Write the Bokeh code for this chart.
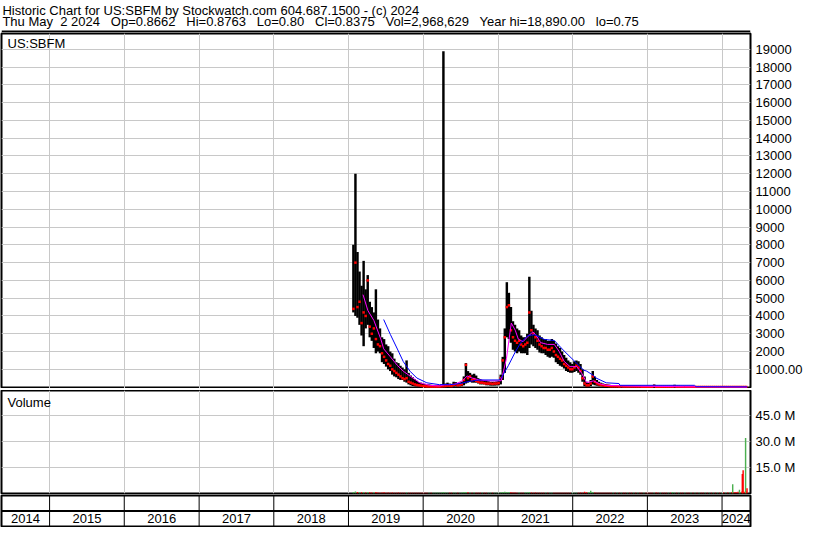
import pandas as pd
from bokeh.plotting import figure
from bokeh.models import Range1d, FixedTicker, Span, Label, ColumnDataSource
from bokeh.layouts import column
from bokeh.embed import file_html
from bokeh.resources import INLINE
from bokeh.core.properties import value

FONT = "Liberation Sans"
FS = "13px"

# ---------------- texts ----------------
GAP = " \u00a0 "
header_line1 = "Historic Chart for US:SBFM by Stockwatch.com 604.687.1500 - (c) 2024"
header_line2 = GAP.join(["Thu May \u00a02 2024", "Op=0.8662", "Hi=0.8763", "Lo=0.80", "Cl=0.8375",
                         "Vol=2,968,629", "Year hi=18,890.00", "lo=0.75"])
symbol_label = "US:SBFM"
volume_label = "Volume"

# ---------------- axes ----------------
x_start = "2014-05-11"
x_end = "2024-05-19"
year_labels = [2014, 2015, 2016, 2017, 2018, 2019, 2020, 2021, 2022, 2023, 2024]
price_ticks = [1000, 2000, 3000, 4000, 5000, 6000, 7000, 8000, 9000, 10000,
               11000, 12000, 13000, 14000, 15000, 16000, 17000, 18000, 19000]
price_tick_labels = ["1000.00", "2000", "3000", "4000", "5000", "6000", "7000", "8000", "9000", "10000",
                     "11000", "12000", "13000", "14000", "15000", "16000", "17000", "18000", "19000"]
vol_ticks = [15e6, 30e6, 45e6]
vol_tick_labels = ["15.0 M", "30.0 M", "45.0 M"]

# ---------------- price bars (10-day sampling) ----------------
bar_start = "2019-01-25"
bar_step = "10D"
high = [8000, 12000, 7600, 6500, 5700, 7100, 5500, 6300, 4800, 4500,
        4200, 5500, 3800, 3300, 2800, 2700, 2400, 2300, 2000, 1900,
        1600, 1400, 1350, 1200, 1100, 1000, 1500, 800, 650, 550,
        450, 350, 280, 250, 200, 180, 150, 150, 130, 120,
        120, 100, 100, 150, 18890, 200, 250, 200, 180, 300,
        280, 200, 250, 300, 600, 1350, 900, 800, 700, 750,
        650, 500, 450, 400, 350, 350, 330, 300, 300, 300,
        320, 350, 700, 1700, 3300, 5900, 5300, 4500, 3700, 3500,
        3300, 3200, 2900, 2800, 2800, 3000, 6200, 4300, 3500, 3300,
        3200, 2900, 2800, 2700, 2700, 2600, 2600, 2700, 2600, 2450,
        2300, 2200, 2000, 1800, 1650, 1500, 1400, 1300, 1450, 1500,
        1450, 1300, 1000, 600, 300, 250, 400, 900, 600, 400,
        300, 250, 200, 180, 150, 130, 120, 110, 100, 100,
        90, 90, 85, 80, 80, 75, 70, 70, 65, 65,
        60, 60, 60, 55, 55, 55, 50, 150, 50, 50,
        45, 45, 45, 40, 40, 40, 40, 130, 35, 35,
        35, 30, 30, 30, 28, 25, 25, 22, 20, 20,
        18, 15, 15, 12, 12, 10, 10, 8, 8, 6,
        6, 5, 5, 4, 4, 3, 3, 3, 3, 2,
        2, 2, 2]
low = [4200, 4000, 3900, 3500, 2900, 2300, 3300, 3500, 2800, 2600,
       2200, 1900, 2000, 1900, 1400, 1300, 1150, 1000, 900, 700,
       600, 550, 450, 400, 400, 300, 250, 150, 100, 60,
       40, 30, 20, 15, 10, 10, 12, 10, 11, 10,
       12, 10, 11, 10, 10, 15, 20, 20, 20, 30,
       40, 30, 40, 50, 100, 200, 250, 300, 250, 250,
       250, 200, 150, 150, 150, 100, 100, 80, 80, 80,
       90, 100, 150, 400, 800, 2800, 2700, 2500, 2100, 2000,
       1900, 2000, 1900, 1900, 1900, 1800, 2200, 2400, 2300, 2200,
       2100, 1950, 1900, 1900, 1800, 1700, 1650, 1700, 1650, 1400,
       1300, 1200, 1150, 1050, 900, 850, 800, 800, 850, 900,
       800, 700, 300, 50, 20, 20, 50, 150, 100, 80,
       50, 40, 30, 20, 20, 15, 10, 10, 10, 10,
       10, 10, 10, 9, 9, 8, 8, 8, 7, 7,
       7, 6, 6, 6, 6, 5, 5, 20, 5, 5,
       5, 4, 4, 4, 4, 4, 3, 15, 3, 3,
       3, 3, 2, 2, 2, 2, 2, 2, 2, 2,
       2, 1.5, 1.5, 1.2, 1.2, 1, 1, 1, 1, 0.9,
       0.9, 0.8, 0.8, 0.8, 0.8, 0.8, 0.8, 0.75, 0.75, 0.75,
       0.75, 0.8, 0.8]
close = [4400, 7000, 4500, 4800, 3600, 4200, 4000, 6000, 3400, 3000,
         3300, 2700, 2400, 2300, 1900, 1700, 1500, 1300, 1200, 1000,
         900, 800, 700, 600, 500, 450, 500, 300, 250, 200,
         150, 120, 100, 80, 60, 50, 40, 40, 30, 30,
         30, 30, 30, 40, 50, 60, 80, 70, 60, 120,
         150, 100, 120, 150, 400, 1250, 500, 600, 400, 450,
         350, 300, 250, 250, 220, 200, 200, 200, 180, 200,
         200, 220, 500, 1500, 2800, 4500, 4600, 3200, 2800, 2600,
         2500, 2600, 2400, 2300, 2400, 2500, 4200, 3200, 3000, 2800,
         2600, 2400, 2300, 2200, 2200, 2100, 2100, 2200, 2000, 1800,
         1700, 1600, 1500, 1300, 1200, 1100, 1000, 1000, 1100, 1200,
         1100, 900, 500, 200, 100, 100, 200, 600, 300, 200,
         150, 120, 100, 80, 70, 60, 50, 50, 40, 40,
         30, 40, 38, 35, 35, 32, 30, 30, 28, 28,
         26, 25, 25, 24, 23, 22, 20, 60, 20, 18,
         18, 17, 16, 15, 15, 14, 14, 40, 12, 12,
         11, 10, 10, 9, 8, 8, 7, 7, 6, 6,
         5, 4, 4, 3.5, 3.5, 3, 3, 2.5, 2.5, 2,
         2, 1.8, 1.8, 1.5, 1.5, 1.3, 1.2, 1.1, 1.0, 1.0,
         0.9, 0.85, 0.84]
volume_m = [0.9, 1.1, 0.8, 0.9, 0.7, 0.8, 0.6, 0.9, 0.7, 0.6,
            0.7, 0.8, 0.6, 0.5, 0.6, 0.7, 0.5, 0.6, 0.5, 0.6,
            0.5, 0.4, 0.6, 0.5, 0.4, 0.5, 0.6, 0.4, 0.5, 0.4,
            0.5, 0.4, 0.5, 0.4, 0.5, 0.4, 0.5, 0.4, 0.5, 0.4,
            0.5, 0.6, 0.5, 0.6, 0.9, 0.6, 0.5, 0.4, 0.5, 0.6,
            0.5, 0.4, 0.5, 0.6, 0.8, 0.9, 0.7, 0.6, 0.5, 0.6,
            0.5, 0.4, 0.5, 0.4, 0.5, 0.4, 0.5, 0.4, 0.5, 0.4,
            0.5, 0.5, 0.7, 0.9, 1.0, 0.9, 0.8, 0.7, 0.6, 0.6,
            0.5, 0.6, 0.5, 0.5, 0.6, 0.7, 0.8, 0.6, 0.5, 0.6,
            0.5, 0.5, 0.4, 0.5, 0.5, 0.4, 0.5, 0.4, 0.5, 0.5,
            0.4, 0.5, 0.4, 0.5, 0.4, 0.5, 0.4, 0.5, 0.5, 0.4,
            0.5, 0.6, 0.5, 1.0, 0.7, 0.8, 1.6, 0.9, 0.6, 0.5,
            0.4, 0.5, 0.4, 0.5, 0.4, 0.5, 0.4, 0.5, 0.4, 0.5,
            0.4, 0.5, 0.4, 0.5, 0.4, 0.5, 0.4, 0.5, 0.4, 0.5,
            0.4, 0.5, 0.4, 0.5, 0.4, 0.5, 0.4, 0.5, 0.6, 0.5,
            0.4, 0.5, 0.4, 0.5, 0.4, 0.5, 0.9, 0.5, 0.4, 0.5,
            0.4, 0.5, 0.4, 0.5, 0.4, 0.5, 0.4, 0.5, 0.4, 0.5,
            0.4, 0.5, 0.4, 0.5, 0.4, 0.5, 0.4, 0.5, 0.4, 0.5,
            0.5, 0.6, 0.5, 0.6, 0.7, 0.8, 0.9, 0.8, 1.0, 0.9,
            1.1, 1.0, 1.2]

# ---------------- 2024 volume spikes (daily) ----------------
spike_dates = ["2024-02-22", "2024-03-26", "2024-04-09", "2024-04-13", "2024-04-25", "2024-05-02"]
spike_volume_m = [5.4, 2.1, 11.3, 13.4, 32.0, 2.97]
spike_up = [True, True, False, False, True, False]

# ---------------- moving averages ----------------
ma_short_dates = ["2019-03-13", "2019-04-06", "2019-05-05", "2019-06-08", "2019-06-22", "2019-07-25",
                  "2019-08-28", "2019-09-26", "2019-10-29", "2019-12-16", "2020-02-02", "2020-03-21",
                  "2020-04-15", "2020-06-02", "2020-07-10", "2020-08-03", "2020-08-27", "2020-09-30",
                  "2020-11-17", "2021-01-03", "2021-01-17", "2021-02-11", "2021-03-02", "2021-03-07",
                  "2021-03-26", "2021-04-10", "2021-05-03", "2021-05-27", "2021-06-20", "2021-07-04",
                  "2021-07-28", "2021-08-31", "2021-10-03", "2021-10-27", "2021-11-20", "2021-12-19",
                  "2022-01-21", "2022-02-14", "2022-03-10", "2022-04-13", "2022-05-11", "2022-06-14",
                  "2022-09-18", "2023-07-02", "2024-05-02"]
ma_short = [5200, 4300, 3750, 2700, 2150, 1700, 1220, 890, 620, 240, 100, 60,
            130, 150, 350, 620, 510, 400, 350, 350, 360, 1600, 3200, 3600,
            3200, 2700, 2550, 2850, 3100, 2950, 2500, 2400, 2400, 2000, 1450, 1150,
            1150, 780, 250, 350, 190, 100, 60, 20, 1]
ma_long_dates = ["2019-06-22", "2019-07-25", "2019-08-28", "2019-09-26", "2019-10-29", "2019-12-01",
                 "2020-01-19", "2020-03-21", "2020-05-09", "2020-06-26", "2020-08-13", "2020-09-30",
                 "2021-01-03", "2021-01-17", "2021-02-21", "2021-03-26", "2021-04-23", "2021-05-27",
                 "2021-06-29", "2021-08-16", "2021-10-03", "2021-11-20", "2022-01-07", "2022-02-24",
                 "2022-03-10", "2022-04-13", "2022-04-25", "2022-06-14", "2022-08-15", "2022-08-20",
                 "2023-08-19", "2023-08-27", "2024-05-02"]
ma_long = [3800, 2950, 2140, 1430, 890, 510, 240, 135, 135, 190, 320, 400,
           400, 510, 1220, 1970, 2520, 2890, 2950, 2680, 2620, 2030, 1490, 950,
           900, 650, 510, 240, 200, 100, 100, 20, 10]

# ---------------- colours ----------------
GRID = "#c8c8c8"
UP = "#4cb050"
DOWN = "#ff0000"

# ---------------- derived ----------------
bar_dates = pd.date_range(bar_start, periods=len(high), freq=bar_step)
xr = Range1d(start=pd.Timestamp(x_start), end=pd.Timestamp(x_end))
year_bounds = [pd.Timestamp(f"{y}-01-01") for y in year_labels[1:]]
year_bounds_ms = [t.value / 1e6 for t in year_bounds]
edges = [pd.Timestamp(x_start)] + year_bounds + [pd.Timestamp(x_end)]
year_mid = [edges[i] + (edges[i + 1] - edges[i]) / 2 for i in range(len(year_labels))]
day_ms = 24 * 3600 * 1000

W = 814
LEFT = 1
RIGHT = 64


def base_fig(height, y_range, y_loc=None, top=1, bottom=1):
    f = figure(width=W, height=height, x_range=xr, y_range=y_range,
               x_axis_type="datetime", x_axis_location=None, y_axis_location=y_loc,
               output_backend="svg", toolbar_location=None,
               min_border_left=LEFT, min_border_right=RIGHT,
               min_border_top=top, min_border_bottom=bottom)
    f.outline_line_color = "black"
    f.outline_line_width = 2
    f.background_fill_color = "white"
    f.border_fill_color = "white"
    return f


def style_right_axis(f, ticks, labels):
    ax = f.yaxis[0]
    ax.ticker = FixedTicker(ticks=ticks)
    ax.major_label_overrides = {t: l for t, l in zip(ticks, labels)}
    ax.major_tick_line_color = None
    ax.minor_tick_line_color = None
    ax.axis_line_color = None
    ax.major_tick_out = 0
    ax.major_tick_in = 0
    ax.major_label_standoff = 5
    ax.major_label_text_font = FONT
    ax.major_label_text_font_size = FS
    ax.major_label_text_color = "black"
    f.ygrid.ticker = FixedTicker(ticks=ticks)
    f.ygrid.grid_line_color = GRID
    f.xgrid.ticker = FixedTicker(ticks=year_bounds_ms)
    f.xgrid.grid_line_color = GRID


# ---------------- header ----------------
h = figure(width=W, height=32, x_range=Range1d(0, W), y_range=Range1d(0, 32),
           x_axis_location=None, y_axis_location=None, output_backend="svg",
           toolbar_location=None, min_border=0)
h.outline_line_color = None
h.grid.visible = False
h.text(x=[1, 1], y=[22.5, 11.5], text=[header_line1, header_line2],
       text_font=value(FONT), text_font_size=FS, text_color="black",
       text_baseline="alphabetic")
h.add_layout(Span(location=1, dimension="width", line_color="black", line_width=2))

# ---------------- price ----------------
p = base_fig(356, Range1d(-80, 19890), "right", top=1, bottom=0)
style_right_axis(p, price_ticks, price_tick_labels)
src = ColumnDataSource(dict(x=bar_dates, high=high, low=low, close=close))
p.vbar(x="x", top="high", bottom="low", width=12 * day_ms, source=src,
       fill_color="black", line_color=None)
p.scatter(x="x", y="close", source=src, marker="square", size=2.5,
          fill_color=DOWN, line_color=None)
p.line(x=pd.to_datetime(ma_short_dates), y=ma_short, line_color="#ff00ff", line_width=1)
p.line(x=pd.to_datetime(ma_long_dates), y=ma_long, line_color="#0000ff", line_width=1)
p.add_layout(Label(x=6, y=345, x_units="screen", y_units="screen", text=symbol_label,
                   text_font=FONT, text_font_size=FS, text_baseline="middle",
                   text_color="black"))

# ---------------- full-width separator between panels ----------------
sep = figure(width=W, height=2, x_axis_location=None, y_axis_location=None,
             output_backend="svg", toolbar_location=None, min_border=0)
sep.grid.visible = False
sep.outline_line_color = None
sep.background_fill_color = "black"
sep.border_fill_color = "black"

# ---------------- volume ----------------
v = base_fig(104, Range1d(0, 59.5e6), "right", top=0, bottom=1)
style_right_axis(v, vol_ticks, vol_tick_labels)
vol_colors = [UP] + [UP if close[i] >= close[i - 1] else DOWN for i in range(1, len(close))]
vsrc = ColumnDataSource(dict(x=bar_dates, top=[m * 1e6 for m in volume_m], c=vol_colors))
v.vbar(x="x", top="top", bottom=0, width=7 * day_ms, source=vsrc,
       fill_color="c", line_color=None)
ssrc = ColumnDataSource(dict(x=pd.to_datetime(spike_dates), top=[m * 1e6 for m in spike_volume_m],
                             c=[UP if u else DOWN for u in spike_up]))
v.vbar(x="x", top="top", bottom=0, width=7 * day_ms, source=ssrc,
       fill_color="c", line_color=None)
v.add_layout(Label(x=6, y=91, x_units="screen", y_units="screen", text=volume_label,
                   text_font=FONT, text_font_size=FS, text_baseline="middle",
                   text_color="black"))

# ---------------- year strip ----------------
yf = base_fig(33, Range1d(0, 2), None)
yf.grid.visible = False
for ms in year_bounds_ms:
    yf.add_layout(Span(location=ms, dimension="height", line_color="black", line_width=1))
yf.add_layout(Span(location=1, dimension="width", line_color="black", line_width=2))
yf.text(x=year_mid, y=[0.5] * len(year_labels), text=[str(y) for y in year_labels],
        text_font=value(FONT), text_font_size=FS, text_color="black",
        text_align="center", text_baseline="middle")

layout = column(h, p, sep, v, yf, spacing=0)
open("out.html", "w").write(file_html(layout, INLINE))
